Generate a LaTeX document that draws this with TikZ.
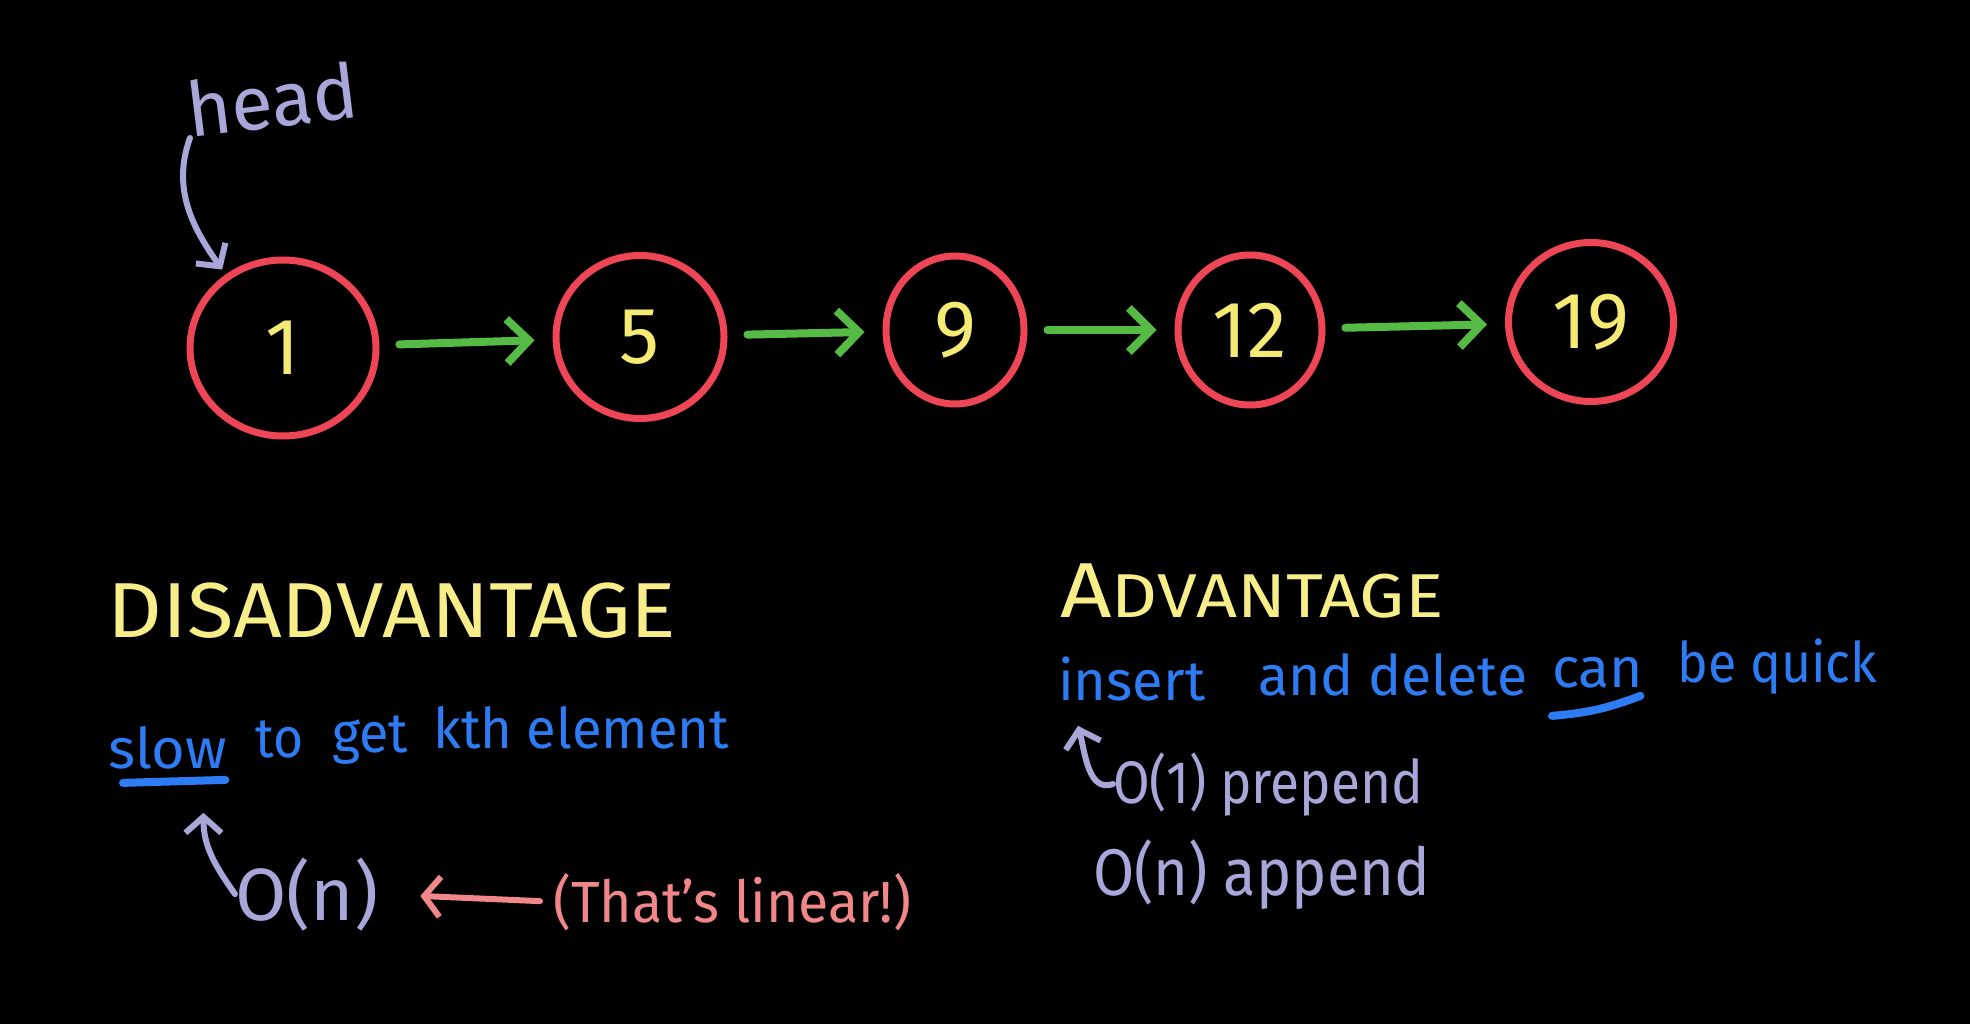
\documentclass[tikz,border=0pt]{standalone}
\usepackage{fontspec}
\setmainfont{Fira Sans}
\usetikzlibrary{arrows.meta,shapes.geometric,calc}
\definecolor{redc}{HTML}{EE4656}
\definecolor{greenc}{HTML}{55BB44}
\definecolor{yellowc}{HTML}{F7EE8A}
\definecolor{digitc}{HTML}{F5EA74}
\definecolor{lavc}{HTML}{A9A6DA}
\definecolor{bluec}{HTML}{2E7CF4}
\definecolor{pinkc}{HTML}{F2878A}
\newcommand\hw[2]{\resizebox{#1}{\height}{#2}}
\begin{document}
\begin{tikzpicture}[x=1pt,y=1pt,
  listnode/.style={ellipse, draw=redc, line width=7pt, inner sep=0pt, text=digitc, font=\fontsize{80}{80}\selectfont},
  word/.style={inner sep=0pt, anchor=base west},
  caps/.style={word, text=yellowc, font=\fontsize{78}{80}\selectfont},
  bluetxt/.style={word, text=bluec, font=\fontsize{56}{60}\selectfont},
  lavtxt/.style={word, text=lavc, font=\fontsize{60}{64}\selectfont},
  pinktxt/.style={word, text=pinkc, font=\fontsize{58}{62}\selectfont},
  hand/.style={line width=7pt, line cap=round, line join=round},
  link/.style={hand, draw=greenc, line width=8pt, -{Straight Barb[length=22pt,width=44pt]}, shorten <=20pt, shorten >=18pt},
  lavarrow/.style={hand, draw=lavc, line width=6pt, -{Straight Barb[length=16pt,width=36pt]}},
  pinkarrow/.style={hand, draw=pinkc, line width=6pt, -{Straight Barb[length=16pt,width=40pt]}},
  uline/.style={hand, draw=bluec, line width=8pt}]

\fill[black] (0,0) rectangle (1970,-1024);
\useasboundingbox (0,0) rectangle (1970,-1024);

% linked list
\node[listnode, minimum width=186pt, minimum height=176pt] (c1) at (283,-348) {1};
\node[listnode, minimum width=168pt, minimum height=163pt] (c5) at (640,-337) {5};
\node[listnode, minimum width=138pt, minimum height=148pt] (c9) at (955,-330) {9};
\node[listnode, minimum width=144pt, minimum height=150pt] (c12) at (1250,-330) {12};
\node[listnode, minimum width=165pt, minimum height=159pt] (c19) at (1591,-322) {19};

\draw[link] (c1) -- (c5);
\draw[link] (c5) -- (c9);
\draw[link] (c9) -- (c12);
\draw[link] (c12) -- (c19);

% head
\node[lavtxt, rotate=7, font=\fontsize{76}{78}\selectfont] (head) at (190,-138) {head};
\draw[lavarrow, shorten >=6pt] (head.base west) to[out=250,in=125] (c1.128);

% disadvantage
\node[caps] (dis) at (107,-637) {\hw{569pt}{DISADVANTAGE}};
\node[bluetxt] (slow) at (108,-768) {\hw{119pt}{slow}};
\node[bluetxt] (to) at (255,-757) {\hw{48pt}{to}};
\node[bluetxt] (get) at (332,-752) {\hw{76pt}{get}};
\node[bluetxt] (kth) at (433,-748) {\hw{296pt}{kth element}};
\draw[uline] ([shift={(15,-14)}]slow.south west) -- ([shift={(-2,-11)}]slow.south east);

\node[lavtxt, font=\fontsize{74}{76}\selectfont] (on1) at (235,-920) {\hw{143pt}{O(n)}};
\node[pinktxt] (lin) at (553,-922) {\hw{358pt}{(That's linear!)}};
\draw[lavarrow] (on1.west) to[out=125,in=270] ($(slow.south east)+(-24,-44)$);
\draw[pinkarrow, shorten <=13pt, shorten >=42pt] (lin.west) -- (on1.east);

% advantage
\node[caps] (adv) at (1060,-617) {\hw{383pt}{A\fontsize{62}{64}\selectfont DVANTAGE}};
\node[bluetxt] (insert) at (1058,-700) {\hw{147pt}{insert}};
\node[bluetxt] (anddel) at (1258,-695) {\hw{269pt}{and delete}};
\node[bluetxt] (can) at (1552,-687) {\hw{91pt}{can}};
\node[bluetxt] (quick) at (1677,-682) {\hw{200pt}{be quick}};
\draw[uline] ([shift={(0,-28)}]can.south west) to[bend right=8] ([shift={(-3,-8)}]can.south east);

\node[lavtxt] (pre) at (1113,-803) {\hw{310pt}{O(1) prepend}};
\node[lavtxt, font=\fontsize{66}{68}\selectfont] (app) at (1093,-895) {\hw{337pt}{O(n) append}};
\draw[lavarrow] (pre.west) to[out=200,in=-75] ($(insert.south west)+(20,-25)$);
\end{tikzpicture}
\end{document}
